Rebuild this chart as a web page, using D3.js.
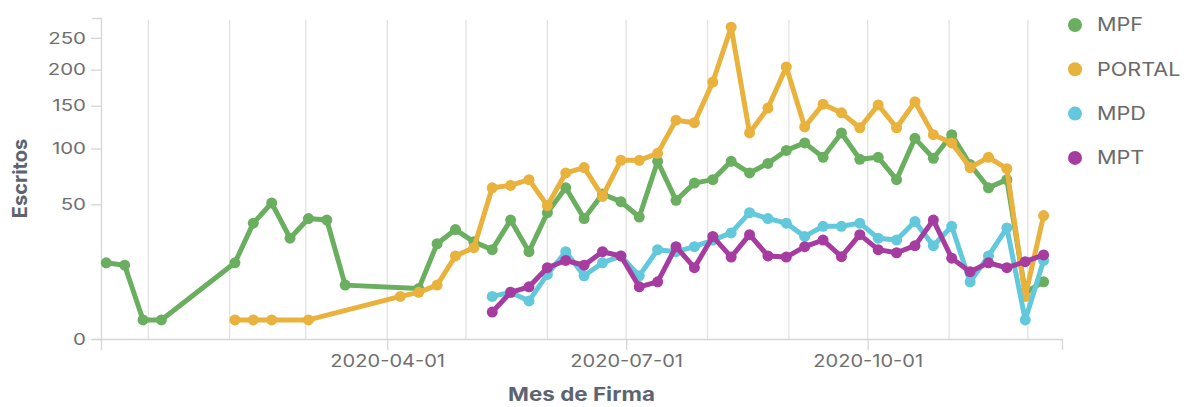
<!DOCTYPE html>
<html>
<head>
<meta charset="utf-8">
<script src="https://cdn.jsdelivr.net/npm/d3@7"></script>
<style>
  html, body { margin: 0; padding: 0; background: #ffffff; }
  svg { display: block; font-family: Inter, "Noto Sans", sans-serif; }
</style>
</head>
<body>
<svg id="chart" width="1190" height="407"></svg>
<script>
// ---- data (weekly buckets, Monday start) ----
const weeks = [
  "2019-12-16","2019-12-23","2019-12-30","2020-01-06","2020-01-13","2020-01-20","2020-01-27",
  "2020-02-03","2020-02-10","2020-02-17","2020-02-24","2020-03-02","2020-03-09","2020-03-16",
  "2020-03-23","2020-03-30","2020-04-06","2020-04-13","2020-04-20","2020-04-27","2020-05-04",
  "2020-05-11","2020-05-18","2020-05-25","2020-06-01","2020-06-08","2020-06-15","2020-06-22",
  "2020-06-29","2020-07-06","2020-07-13","2020-07-20","2020-07-27","2020-08-03","2020-08-10",
  "2020-08-17","2020-08-24","2020-08-31","2020-09-07","2020-09-14","2020-09-21","2020-09-28",
  "2020-10-05","2020-10-12","2020-10-19","2020-10-26","2020-11-02","2020-11-09","2020-11-16",
  "2020-11-23","2020-11-30","2020-12-07"
];
const seriesNames = ["MPF", "PORTAL", "MPD", "MPT"];
const mpf = [16,15,1,1,null,null,null,16,37,51,28,40,39,8,null,null,null,7,25,33,26,
  22,39,21,44,63,40,58,52,41,87,53,67,70,87,76,85,98,106,91,117,89,91,70,111,90,115,84,63,70,6,9];
const portal = [null,null,null,null,null,null,null,1,1,1,null,1,null,null,null,null,5,6,8,19,23,
  63,65,70,49,76,81,56,88,88,95,132,129,182,268,117,147,204,124,152,141,123,151,123,155,115,106,81,91,80,5,42];
const mpd = [null,null,null,null,null,null,null,null,null,null,null,null,null,null,null,null,null,null,null,null,null,
  5,6,4,11.5,21,11,16,19,11,22,21,23.5,27,31,44,40,37,29,35,35,37,28,27,38,24,35,9,19,34,1,17];
const mpt = [null,null,null,null,null,null,null,null,null,null,null,null,null,null,null,null,null,null,null,null,null,
  2,6,7.5,14,17,15,21,19,7.5,9,23.5,14,29,18.5,30,19,18.5,23.5,27,18.7,30,22,20.5,24,39,18,12.5,16,14,16.5,19.5];
const yTicks = [0, 50, 100, 150, 200, 250];
const xTickDates = ["2020-04-01", "2020-07-01", "2020-10-01"];
const xDomainDates = ["2019-12-14", "2020-12-14"];
const yMax = 284;
const colors = ["#6aae5f", "#e8b23c", "#62c8dc", "#a63c9f"];

// ---- layout ----
const svg = d3.select("#chart");
const mLeft = 101, mRight = 1062, mTop = 18, mBottom = 339;
const parse = d3.utcParse("%Y-%m-%d");

// the reference text is rendered a little wider than Inter's natural width
function widen(sel, factor) {
  sel.each(function () {
    const len = this.getComputedTextLength();
    d3.select(this).attr("textLength", len * factor).attr("lengthAdjust", "spacingAndGlyphs");
  });
}

const x = d3.scaleUtc().domain(xDomainDates.map(parse)).range([mLeft, mRight]);
const y = d3.scaleSqrt().domain([0, yMax]).range([mBottom, mTop]);

// monthly vertical gridlines
const months = d3.utcMonth.range(parse("2020-01-01"), parse(xDomainDates[1]));
svg.append("g").selectAll("line").data(months).join("line")
  .attr("x1", d => x(d)).attr("x2", d => x(d))
  .attr("y1", mTop + 2).attr("y2", mBottom)
  .attr("stroke", "#e2e2e2").attr("stroke-width", 1.3);

// axes
const axisColor = "#d6d6d6";
const labelColor = "#6f6f6f";
const yAxis = svg.append("g").attr("transform", `translate(${mLeft},0)`)
  .call(d3.axisLeft(y).tickValues(yTicks).tickSize(10).tickSizeOuter(9).tickPadding(5));
const xAxis = svg.append("g").attr("transform", `translate(0,${mBottom})`)
  .call(d3.axisBottom(x).tickValues(xTickDates.map(parse)).tickFormat(d3.utcFormat("%Y-%m-%d"))
    .tickSize(11).tickSizeOuter(11).tickPadding(5));
[xAxis, yAxis].forEach(g => {
  g.selectAll("path.domain").attr("stroke", axisColor).attr("stroke-width", 1.3);
  g.selectAll(".tick line").attr("stroke", axisColor).attr("stroke-width", 1.3);
  g.selectAll("text").attr("fill", labelColor).style("font-family", "Inter, sans-serif");
});
yAxis.selectAll("text").style("font-size", "16.5px");
xAxis.selectAll("text").style("font-size", "17px");
widen(yAxis.selectAll("text"), 1.24);
widen(xAxis.selectAll("text"), 1.18);

// axis titles
const xTitle = svg.append("text")
  .attr("x", (mLeft + mRight) / 2).attr("y", 401)
  .attr("text-anchor", "middle")
  .style("font-size", "19px").style("font-weight", "700").attr("fill", "#5d6470")
  .text("Mes de Firma");
widen(xTitle, 1.18);
svg.append("text")
  .attr("transform", `translate(27,${(mTop + mBottom) / 2}) rotate(-90)`)
  .attr("text-anchor", "middle")
  .style("font-size", "20px").style("font-weight", "700").attr("fill", "#5d6470")
  .text("Escritos");

// series
const allSeries = [mpf, portal, mpd, mpt];
const line = d3.line().x(d => x(d.date)).y(d => y(d.value)).curve(d3.curveLinear);
allSeries.forEach((vals, si) => {
  const pts = weeks.map((w, i) => ({ date: parse(w), value: vals[i] })).filter(d => d.value != null);
  const g = svg.append("g");
  g.append("path").datum(pts)
    .attr("d", line).attr("fill", "none")
    .attr("stroke", colors[si]).attr("stroke-width", 5)
    .attr("stroke-linejoin", "round").attr("stroke-linecap", "round");
  g.selectAll("circle").data(pts).join("circle")
    .attr("cx", d => x(d.date)).attr("cy", d => y(d.value))
    .attr("r", 5.5).attr("fill", colors[si]);
});

// legend
const legend = svg.append("g");
seriesNames.forEach((name, i) => {
  const cy = 25 + i * 44.3;
  legend.append("circle").attr("cx", 1075).attr("cy", cy).attr("r", 7).attr("fill", colors[i]);
  const t = legend.append("text").attr("x", 1097).attr("y", cy).attr("dy", "0.36em")
    .style("font-size", "18px").attr("fill", "#6a6a6a").text(name);
  widen(t, 1.2);
});
</script>
</body>
</html>
